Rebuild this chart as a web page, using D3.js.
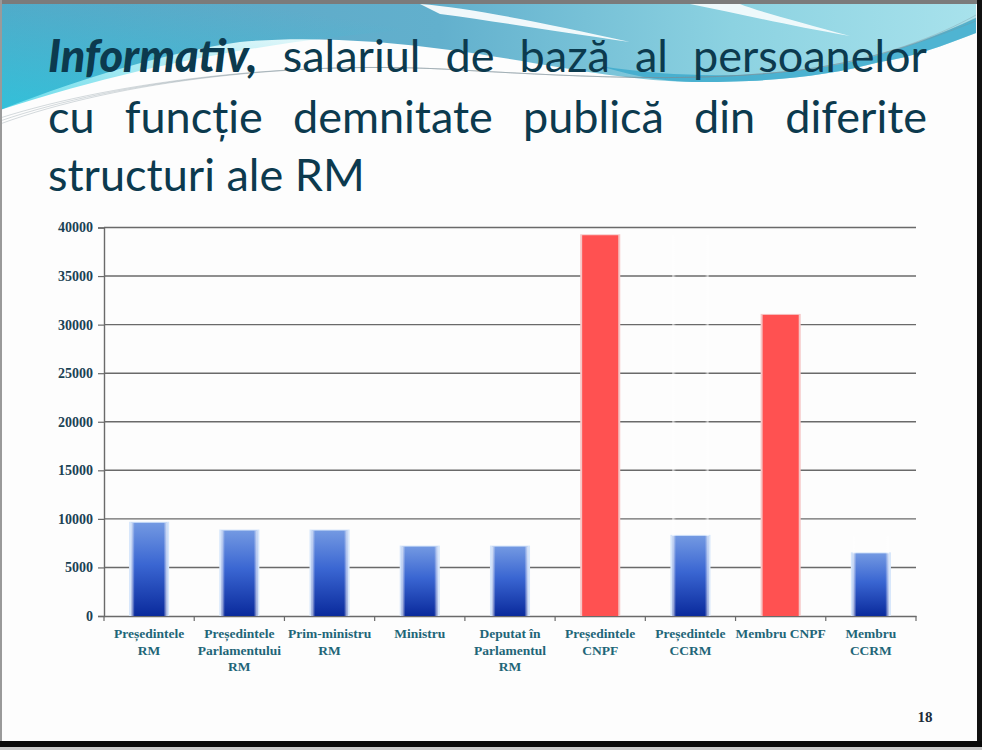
<!DOCTYPE html>
<html>
<head>
<meta charset="utf-8">
<script src="https://cdn.jsdelivr.net/npm/d3@7"></script>
<style>
  html, body { margin: 0; padding: 0; background: #ffffff; }
  svg { display: block; }
</style>
</head>
<body>
<svg id="chart" width="982" height="750"></svg>
<script>
// ---- data ----
const categories = [
  "Președintele\nRM",
  "Președintele\nParlamentului\nRM",
  "Prim-ministru\nRM",
  "Ministru",
  "Deputat în\nParlamentul\nRM",
  "Președintele\nCNPF",
  "Președintele\nCCRM",
  "Membru CNPF",
  "Membru\nCCRM"
];
const salaries = [9600, 8800, 8800, 7150, 7150, 39200, 8250, 31000, 6450];
const highlighted = ["Președintele\nCNPF", "Membru CNPF"];
const yTicks = [0, 5000, 10000, 15000, 20000, 25000, 30000, 35000, 40000];
const titleLines = [
  [["Informativ,", true], ["salariul", false], ["de", false], ["bază", false], ["al", false], ["persoanelor", false]],
  [["cu", false], ["funcție", false], ["demnitate", false], ["publică", false], ["din", false], ["diferite", false]],
  [["structuri ale RM", false]]
];
const pageNumber = "18";

// ---- layout ----
const W = 982, H = 750;
const plot = { left: 104, right: 916, top: 227.5, bottom: 616 };
const svg = d3.select("#chart");
const defs = svg.append("defs");

// background
svg.append("rect").attr("width", W).attr("height", H).attr("fill", "#fdfdfd");

// header gradients
const hg = defs.append("linearGradient").attr("id", "hdr").attr("x1", "0").attr("y1", "0").attr("x2", "1").attr("y2", "0");
hg.append("stop").attr("offset", "0").attr("stop-color", "#5aa4c4");
hg.append("stop").attr("offset", "0.45").attr("stop-color", "#62b0cd");
hg.append("stop").attr("offset", "0.75").attr("stop-color", "#8cd2e1");
hg.append("stop").attr("offset", "1").attr("stop-color", "#a8e2ec");
const hc = defs.append("linearGradient").attr("id", "hdrC").attr("x1", "0").attr("y1", "1").attr("x2", "0.6").attr("y2", "0");
hc.append("stop").attr("offset", "0").attr("stop-color", "#22cce2").attr("stop-opacity", 1);
hc.append("stop").attr("offset", "1").attr("stop-color", "#22cce2").attr("stop-opacity", 0);

const boundary = "L976,33 C945,45 910,58 880,62 C830,75 780,82 700,82 C620,82 540,62 450,50 C380,40 300,36 240,42 C170,52 90,75 0,110 Z";
svg.append("path").attr("d", "M0,4 L976,4 " + boundary).attr("fill", "url(#hdr)");
svg.append("path").attr("d", "M0,4 L420,4 L400,30 C300,40 170,55 0,110 Z").attr("fill", "url(#hdrC)").attr("opacity", 0.7);
// darker band near right boundary
svg.append("path")
  .attr("d", "M600,66 C690,80 780,78 860,60 C900,50 940,35 976,18 L976,33 C945,45 910,58 880,62 C830,75 780,82 700,82 C660,82 630,75 600,66 Z")
  .attr("fill", "#3aa9cc").attr("opacity", 0.8);
// white streaks
svg.append("path")
  .attr("d", "M420,4 C470,8 540,22 630,42 C560,32 500,22 440,14 Z")
  .attr("fill", "#ffffff").attr("opacity", 0.9);
svg.append("path")
  .attr("d", "M690,4 C740,14 790,26 850,36 C800,22 760,12 740,4 Z")
  .attr("fill", "#ffffff").attr("opacity", 0.85);
// thin decorative lines
[0, 3, 6].forEach(o => {
  svg.append("path")
    .attr("d", `M0,${118 + o} C120,80 300,60 460,70 C600,78 700,82 800,70 C880,60 940,35 976,${15 + o}`)
    .attr("fill", "none").attr("stroke", "#7a8e96").attr("stroke-width", 0.6).attr("opacity", 0.55);
});

// ---- title ----
const titleX0 = 48, titleX1 = 927;
const titleBase = [72, 133, 191];
const titleFont = "Lato, 'Open Sans', sans-serif";
const titleSize = 45;
const tg = svg.append("g").attr("fill", "#0c3a4e").style("font-family", titleFont).style("font-size", titleSize + "px");
titleLines.forEach((words, li) => {
  const nodes = words.map(([w, emph]) => {
    const t = tg.append("text").attr("y", titleBase[li]).text(w);
    if (emph) t.style("font-weight", "900").style("font-style", "italic");
    return t;
  });
  const widths = nodes.map(n => n.node().getComputedTextLength());
  if (li < 2) {
    const total = d3.sum(widths);
    const gap = (titleX1 - titleX0 - total) / (nodes.length - 1);
    let x = titleX0;
    nodes.forEach((n, i) => { n.attr("x", x); x += widths[i] + gap; });
  } else {
    nodes[0].attr("x", titleX0);
  }
});

// ---- chart ----
const x = d3.scaleBand().domain(categories).range([plot.left, plot.right]).padding(0);
const y = d3.scaleLinear().domain([0, 40000]).range([plot.bottom, plot.top]);

// gridlines
svg.append("g").selectAll("line").data(yTicks.filter(d => d > 0)).join("line")
  .attr("x1", plot.left).attr("x2", plot.right)
  .attr("y1", d => y(d)).attr("y2", d => y(d))
  .attr("stroke", "#6a6a6a").attr("stroke-width", 1.4);

// y axis
const yAxis = svg.append("g").attr("transform", `translate(${plot.left},0)`)
  .call(d3.axisLeft(y).tickValues(yTicks).tickSize(6).tickPadding(5).tickFormat(d3.format("d")));
yAxis.attr("font-size", null).attr("font-family", null);
yAxis.select(".domain").attr("stroke", "#6a6a6a").attr("stroke-width", 1.4);
yAxis.selectAll(".tick line").attr("stroke", "#6a6a6a").attr("stroke-width", 1.2);
yAxis.selectAll(".tick text")
  .attr("font-family", "'Liberation Serif', 'DejaVu Serif', serif")
  .attr("font-size", 14).attr("font-weight", "bold").attr("fill", "#1a4254");

// x axis baseline + ticks
const xAxis = svg.append("g").attr("transform", `translate(0,${plot.bottom})`)
  .call(d3.axisBottom(x).tickSize(0).tickFormat(""));
xAxis.select(".domain").attr("stroke", "#6a6a6a").attr("stroke-width", 1.4);
xAxis.selectAll(".tick").remove();
const boundaries = categories.map(c => x(c)).concat([plot.right]);
svg.append("g").selectAll("line").data(boundaries).join("line")
  .attr("x1", d => d).attr("x2", d => d).attr("y1", plot.bottom).attr("y2", plot.bottom + 5)
  .attr("stroke", "#6a6a6a").attr("stroke-width", 1.2);

// bar gradients
const bg = defs.append("linearGradient").attr("id", "blueBar").attr("x1", 0).attr("y1", 0).attr("x2", 0).attr("y2", 1);
bg.append("stop").attr("offset", "0").attr("stop-color", "#7399e2");
bg.append("stop").attr("offset", "0.45").attr("stop-color", "#3a66d2");
bg.append("stop").attr("offset", "1").attr("stop-color", "#0a2a9c");
const glow = defs.append("linearGradient").attr("id", "blueGlow").attr("x1", 0).attr("y1", 0).attr("x2", 1).attr("y2", 0);
glow.append("stop").attr("offset", "0").attr("stop-color", "#ffffff").attr("stop-opacity", 0.8);
glow.append("stop").attr("offset", "0.1").attr("stop-color", "#ffffff").attr("stop-opacity", 0);
glow.append("stop").attr("offset", "0.9").attr("stop-color", "#ffffff").attr("stop-opacity", 0);
glow.append("stop").attr("offset", "1").attr("stop-color", "#ffffff").attr("stop-opacity", 0.8);

const barW = x.bandwidth() * 0.4;
const bars = svg.append("g").selectAll("g").data(categories).join("g");
// halo
bars.append("rect")
  .attr("x", d => x(d) + x.bandwidth() / 2 - barW / 2 - 2)
  .attr("y", (d, i) => y(salaries[i]) - 1)
  .attr("width", barW + 4)
  .attr("height", (d, i) => plot.bottom - y(salaries[i]) + 1)
  .attr("fill", d => highlighted.includes(d) ? "#f6c6c6" : "#d6e6fb");
bars.append("rect")
  .attr("x", d => x(d) + x.bandwidth() / 2 - barW / 2)
  .attr("y", (d, i) => y(salaries[i]))
  .attr("width", barW)
  .attr("height", (d, i) => plot.bottom - y(salaries[i]))
  .attr("fill", d => highlighted.includes(d) ? "#ff5151" : "url(#blueBar)");
bars.filter(d => !highlighted.includes(d)).append("rect")
  .attr("x", d => x(d) + x.bandwidth() / 2 - barW / 2)
  .attr("y", (d, i) => y(salaries[i]))
  .attr("width", barW)
  .attr("height", (d, i) => plot.bottom - y(salaries[i]))
  .attr("fill", "url(#blueGlow)");

// category labels
const lab = svg.append("g")
  .style("font-family", "'Liberation Serif', 'DejaVu Serif', serif")
  .style("font-size", "13.5px").style("font-weight", "bold")
  .attr("fill", "#1f6678").attr("text-anchor", "middle");
categories.forEach(c => {
  const t = lab.append("text").attr("x", x(c) + x.bandwidth() / 2).attr("y", 638);
  c.split("\n").forEach((line, i) => {
    t.append("tspan").attr("x", x(c) + x.bandwidth() / 2).attr("dy", i === 0 ? 0 : 16.5).text(line);
  });
});

// page number
svg.append("text").attr("x", 925).attr("y", 722).attr("text-anchor", "middle")
  .style("font-family", "'Liberation Serif', 'DejaVu Serif', serif")
  .style("font-size", "15px").style("font-weight", "bold").attr("fill", "#1d2d3a").text(pageNumber);

// frame
svg.append("rect").attr("x", 0).attr("y", 0).attr("width", W).attr("height", 4).attr("fill", "#7b7b7b");
svg.append("rect").attr("x", 0).attr("y", 0).attr("width", 2).attr("height", H).attr("fill", "#9a9a9a");
svg.append("rect").attr("x", 977).attr("y", 0).attr("width", 5).attr("height", H).attr("fill", "#111111");
svg.append("rect").attr("x", 0).attr("y", 741).attr("width", W).attr("height", 6).attr("fill", "#0a0a0a");
svg.append("rect").attr("x", 0).attr("y", 747).attr("width", W).attr("height", 3).attr("fill", "#c9c9c9");
</script>
</body>
</html>
